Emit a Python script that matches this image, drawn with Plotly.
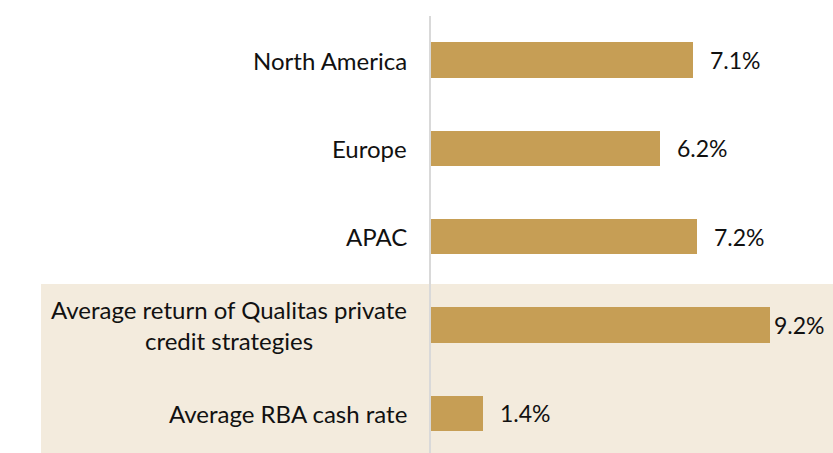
import plotly.graph_objects as go

categories = ["North America", "Europe", "APAC",
              "Average return of Qualitas private<br>credit strategies",
              "Average RBA cash rate"]
values = [7.1, 6.2, 7.2, 9.2, 1.4]
value_labels = ["7.1%", "6.2%", "7.2%", "9.2%", "1.4%"]

W, H = 833, 453
L, T = 431, 16
XMAX = 10.9
FONT = "Lato, 'Open Sans', sans-serif"
BAR = "#C69E55"
BEIGE = "#F3EBDD"
TXT = "#111111"

ypos = list(range(len(categories)))

fig = go.Figure()
fig.add_trace(go.Bar(
    x=values, y=ypos, orientation="h", width=0.4,
    marker=dict(color=BAR, line=dict(width=0)),
    hoverinfo="skip",
))

px_per_unit = (W - L) / XMAX
for i, (v, lab) in enumerate(zip(values, value_labels)):
    end_px = L + v * px_per_unit
    shift = 15 if end_px + 15 + 54 <= W else 2
    fig.add_annotation(x=v, y=i, xref="x", yref="y", text=lab, showarrow=False,
                       xanchor="left", yanchor="middle", xshift=shift,
                       font=dict(family=FONT, size=23, color=TXT))
    fig.add_annotation(x=0, y=i, xref="paper", yref="y", text=categories[i],
                       showarrow=False, xanchor="right", yanchor="middle",
                       xshift=-22, align="center",
                       font=dict(family=FONT, size=24, color=TXT))

fig.add_shape(type="rect", xref="paper", yref="paper",
              x0=(41 - L) / (W - L), x1=1, y0=0, y1=(H - 284) / (H - T),
              fillcolor=BEIGE, line=dict(width=0), layer="below")

ystart = -(60 - T) / 88.3
yend = ystart + (H - T) / 88.3

fig.update_layout(
    width=W, height=H,
    margin=dict(l=L, r=0, t=T, b=0, pad=0),
    paper_bgcolor="white", plot_bgcolor="rgba(0,0,0,0)",
    showlegend=False, bargap=0,
    xaxis=dict(range=[0, XMAX], visible=False, fixedrange=True),
    yaxis=dict(range=[yend, ystart], showticklabels=False, showgrid=False,
               zeroline=False, showline=True, linecolor="#D9D9D9", linewidth=2,
               ticks="", fixedrange=True),
)

fig.write_html("out.html", config={"displayModeBar": False},
               post_script="document.body.style.margin='0';")
